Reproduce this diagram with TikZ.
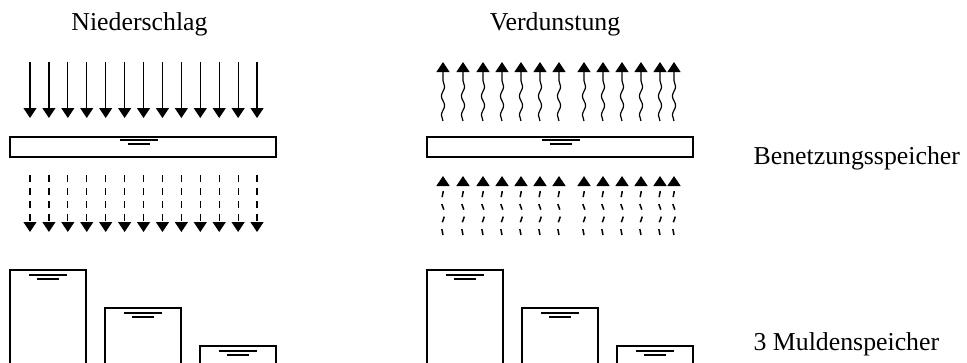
\documentclass[tikz,border=0pt]{standalone}
\usepackage{fontspec}
\setmainfont{Liberation Serif}
\usepackage{tikz}
\usetikzlibrary{arrows.meta,decorations.pathmorphing}

% Wasserspiegel-Symbol, Mitte (#1,#2)
\newcommand{\spiegel}[2]{%
  \draw (#1-19,#2) -- (#1+19,#2);
  \draw (#1-11,#2+4) -- (#1+11,#2+4);
}

\tikzset{
  beschriftung/.style={font=\fontsize{25.8}{30}\selectfont, inner sep=0pt},
  welle/.style={decorate, decoration={snake, amplitude=1.6pt, segment length=19pt, post length=11pt}},
  wellestrich/.style={decorate, decoration={snake, amplitude=1.6pt, segment length=26pt, post length=9pt},
    dash pattern=on 6pt off 7pt, line width=1.5pt},
}

\begin{document}
\begin{tikzpicture}[x=1pt, y=-1pt, line width=1.2pt, >={Triangle[width=13pt,length=10pt]}]
\clip (0,0) rectangle (967,362);
% Beschriftungen
\node[beschriftung, anchor=base] (niederschlag) at (139.5,30) {Niederschlag};
\node[beschriftung, anchor=base] (verdunstung) at (555,30) {Verdunstung};
\node[beschriftung, anchor=base west] (benetzung) at (753,164) {Benetzungsspeicher};
\node[beschriftung, anchor=base west] (mulden) at (753,350) {3 Muldenspeicher};
% Niederschlag (Pfeile nach unten)
\foreach \i in {0,...,12} {
  \pgfmathsetmacro\x{30+18.92*\i}
  \draw[->] (\x,62) -- (\x,118);
  \draw[->, dash pattern=on 7pt off 6pt] (\x,175) -- (\x,232);
}
% Verdunstung (Wellenpfeile nach oben)
\foreach \x in {443,463,483,502,521,540,559,584,603,622,641,660,674} {
  \draw[->, welle] (\x,121) -- (\x,62);
  \draw[->, wellestrich] (\x,235) -- (\x,176);
}
% Benetzungsspeicher
\draw (10,137) rectangle (276,157);
\spiegel{139}{140}
\draw (427,137) rectangle (693,157);
\spiegel{561}{140}
% Muldenspeicher (unten offen)
\foreach \xa/\yt in {10/270, 105/308, 200/346, 427/270, 522/308, 617/346} {
  \draw (\xa,370) |- (\xa+76,\yt) -- (\xa+76,370);
  \spiegel{\xa+38}{\yt+5}
}
\end{tikzpicture}
\end{document}
